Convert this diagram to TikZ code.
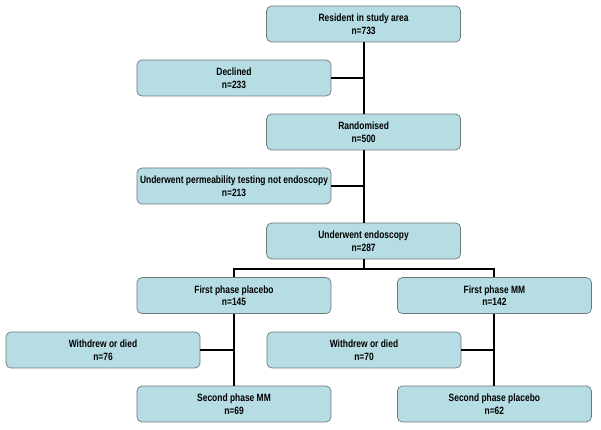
\documentclass[tikz,border=0pt]{standalone}
\usepackage{fontspec}
\setmainfont{Liberation Sans}[FakeStretch=0.8]
\usepackage{xcolor}
\usepackage{tikz}
\usetikzlibrary{positioning,calc}
\definecolor{boxbg}{RGB}{183,221,228}
\definecolor{boxline}{RGB}{110,120,122}

\begin{document}
\begin{tikzpicture}[
    box/.style={draw=boxline, fill=boxbg, rounded corners=3.5pt, line width=0.5pt,
        minimum width=4.85cm, minimum height=0.9cm, align=center,
        font=\fontsize{7.5}{9}\selectfont\bfseries, inner sep=1pt},
    link/.style={line width=1.4pt, black}
]
    \useasboundingbox (0,0) rectangle (15.025,10.75);

    % Boxes
    \node[box] (resident) at (9.09, 10.15) {Resident in study area\\n=733};
    \node[box] (declined) at (5.85, 8.8) {Declined\\n=233};
    \node[box] (random) at (9.09, 7.45) {Randomised\\n=500};
    \node[box] (perm) at (5.85, 6.1) {Underwent permeability testing not endoscopy\\n=213};
    \node[box] (endo) at (9.09, 4.725) {Underwent endoscopy\\n=287};

    \node[box] (placeboA) at (5.85, 3.36) {First phase placebo\\n=145};
    \node[box] (mmA) at (12.36, 3.36) {First phase MM\\n=142};
    \node[box] (withdrewL) at (2.575, 2.0) {Withdrew or died\\n=76};
    \node[box] (withdrewR) at (9.1, 2.0) {Withdrew or died\\n=70};
    \node[box] (mmB) at (5.85, 0.65) {Second phase MM\\n=69};
    \node[box] (placeboB) at (12.36, 0.65) {Second phase placebo\\n=62};

    \coordinate (split) at (9.09, 4.025);

    % Trunk
    \draw[link] (resident) -- (random);
    \draw[link] (random) -- (endo);
    \draw[link] (declined.east) -- (declined.east -| resident.south);
    \draw[link] (perm.east) -- (perm.east -| random.south);

    % Split into arms
    \draw[link] (endo.south) -- (split);
    \draw[link] (placeboA.north) -- (placeboA.north |- split) -- (mmA.north |- split) -- (mmA.north);

    % Left arm
    \draw[link] (placeboA) -- (mmB);
    \draw[link] (withdrewL.east) -- (withdrewL.east -| placeboA.south);

    % Right arm
    \draw[link] (mmA) -- (placeboB);
    \draw[link] (withdrewR.east) -- (withdrewR.east -| mmA.south);
\end{tikzpicture}
\end{document}
